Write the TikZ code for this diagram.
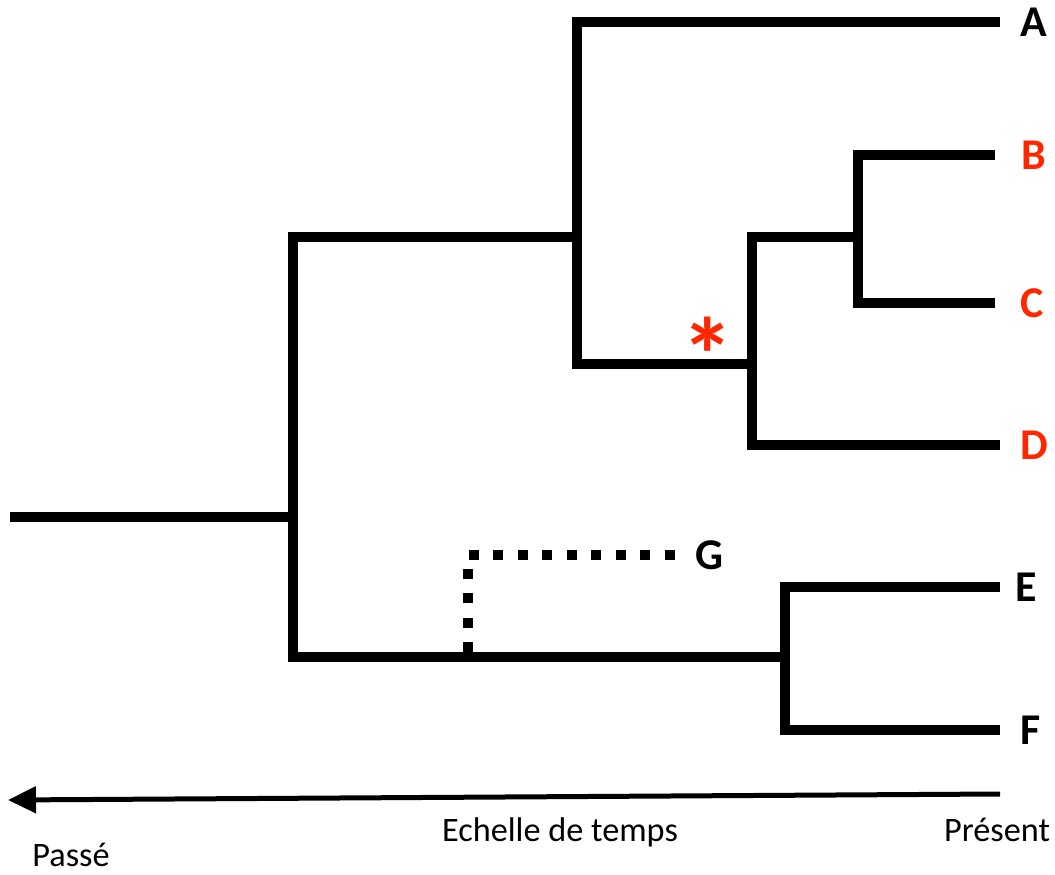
\documentclass[tikz,border=0pt]{standalone}
\usepackage{fontspec}
\setmainfont{Carlito}
\usetikzlibrary{arrows.meta,positioning}
\definecolor{cladered}{RGB}{255,38,0}

\begin{document}
\begin{tikzpicture}[x=0.02cm, y=-0.02cm,
    branch/.style={line width=0.2cm},
    ghost/.style={line width=0.2cm, dash pattern=on 0.2cm off 0.29cm},
    taxon/.style={anchor=west, font=\fontsize{25}{30}\selectfont\bfseries, inner sep=0pt},
    scale label/.style={font=\fontsize{19.5}{23}\selectfont, inner sep=0pt}]
    \useasboundingbox (0,0) rectangle (1055,875);
    % internal nodes
    \coordinate (root) at (10,517);
    \coordinate (n1) at (293,517);
    \coordinate (n2) at (577,237);
    \coordinate (n3) at (785,657);
    \coordinate (n4) at (752,364);
    \coordinate (n5) at (858,237);
    % leaves
    \coordinate (a) at (1000,22);
    \coordinate (b) at (995,155);
    \coordinate (c) at (995,303);
    \coordinate (d) at (1000,445);
    \coordinate (e) at (1000,587);
    \coordinate (f) at (1000,730);
    \coordinate (g0) at (468,652);
    \coordinate (g) at (680,555);
    \node [taxon] (labA) at ([xshift=0.4cm]a) {A};
    \node [taxon, text=cladered] (labB) at ([xshift=0.52cm]b) {B};
    \node [taxon, text=cladered] (labC) at ([xshift=0.5cm]c) {C};
    \node [taxon, text=cladered] (labD) at ([xshift=0.4cm]d) {D};
    \node [taxon] (labE) at ([xshift=0.3cm]e) {E};
    \node [taxon] (labF) at ([xshift=0.4cm]f) {F};
    \node [taxon] (labG) at ([xshift=0.3cm]g) {G};
    % tree
    \draw [branch] (root) -- (n1);
    \draw [branch] (n1) |- (n2);
    \draw [branch] (n1) |- (n3);
    \draw [branch] (n2) |- (a);
    \draw [branch] (n2) |- (n4);
    \draw [branch] (n4) |- (n5);
    \draw [branch] (n4) |- (d);
    \draw [branch] (n5) |- (b);
    \draw [branch] (n5) |- (c);
    \draw [branch] (n3) |- (e);
    \draw [branch] (n3) |- (f);
    \draw [ghost] (g0) |- (g);
    \node [text=cladered, font=\fontsize{60}{60}\selectfont\bfseries, inner sep=0pt] (star) at (708,355) {*};
    % time axis
    \coordinate (now) at (1000,794);
    \coordinate (past) at (8,800);
    \draw [line width=0.1cm, -{Triangle[length=0.56cm, width=0.52cm]}] (now) -- (past);
    \node [scale label] (scale) at (560,832) {Echelle de temps};
    \node [scale label] (present) at (997,830) {Présent};
    \node [scale label, anchor=base west] (passe) at (32,866) {Passé};
\end{tikzpicture}
\end{document}
